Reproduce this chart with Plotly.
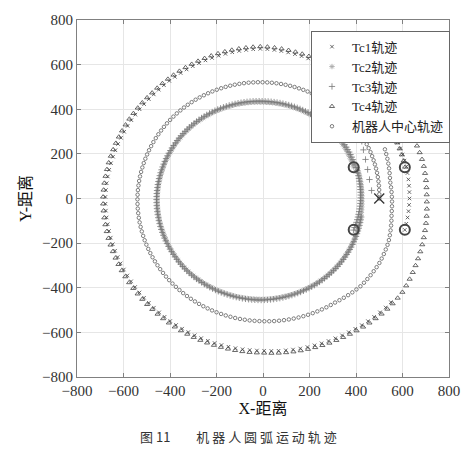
import numpy as np
import plotly.graph_objects as go

# ---------------- data ----------------
# robot pose at the start of the arc (four wheels + centre)
wheel_x = [390, 610, 390, 610]
wheel_y = [140, 140, -140, -140]
centre_x = [500]
centre_y = [0]

# trajectories as (angle in degrees, radius) key samples
tc1_ang = [-13, 0, 13, 30, 45, 90, 135, 157, 180, 225, 270, 300, 317, 320]
tc1_rad = [626, 630, 632, 630, 635, 671, 662, 669, 678, 678, 682, 702, 719, 720]
tc1_extra_x = [344, 362, 380, 396]
tc1_extra_y = [321, 307, 292, 277]

tc2_ang = [20, 45, 90, 135, 180, 225, 270, 315, 360, 380]
tc2_rad = [414, 424, 432, 446, 455, 458, 452, 440, 425, 428]

tc3_ang = [-20, 0, 45, 90, 135, 180, 225, 270, 315, 350]
tc3_rad = [414, 420, 428, 436, 450, 458, 461, 455, 443, 430]
tc3_extra_x = [467, 458, 450, 441, 432, 425]
tc3_extra_y = [36, 85, 130, 175, 218, 256]

tc4_ang = [13, 30, 45, 90, 135, 157, 180, 225, 270, 300, 317, 325, 337, 349, 360, 373, 383, 394, 430]
tc4_rad = [628, 630, 645, 681, 672, 679, 688, 688, 692, 712, 729, 732, 720, 711, 704, 707, 701, 714, 716]

ctr_ang = [0, 28, 90, 135, 180, 225, 270, 304, 317, 330, 340, 353, 368, 383]
ctr_rad = [500, 508, 521, 532, 540, 545, 550, 560, 575, 578, 574, 557, 552, 569]

# sampling step of each trajectory (degrees between markers)
steps = {"tc1": 2.6, "tc2": 1.7, "tc3": 1.7, "tc4": 2.6, "ctr": 2.2}

names = ["Tc1轨迹", "Tc2轨迹", "Tc3轨迹", "Tc4轨迹", "机器人中心轨迹"]
x_ticks = [-800, -600, -400, -200, 0, 200, 400, 600, 800]
y_ticks = [-800, -600, -400, -200, 0, 200, 400, 600, 800]


def polar_path(ang, rad, step):
    a = np.arange(ang[0], ang[-1] + 1e-9, step)
    r = np.interp(a, ang, rad)
    t = np.radians(a)
    return r * np.cos(t), r * np.sin(t)


x1, y1 = polar_path(tc1_ang, tc1_rad, steps["tc1"])
x1 = np.concatenate([x1, tc1_extra_x]); y1 = np.concatenate([y1, tc1_extra_y])
x2, y2 = polar_path(tc2_ang, tc2_rad, steps["tc2"])
x3, y3 = polar_path(tc3_ang, tc3_rad, steps["tc3"])
x3 = np.concatenate([x3, tc3_extra_x]); y3 = np.concatenate([y3, tc3_extra_y])
x4, y4 = polar_path(tc4_ang, tc4_rad, steps["tc4"])
xc, yc = polar_path(ctr_ang, ctr_rad, steps["ctr"])

serif = "Liberation Serif, Noto Sans CJK SC, serif"

fig = go.Figure()
fig.add_trace(go.Scatter(x=x1, y=y1, mode="markers", name=names[0],
                         marker=dict(symbol="x-thin-open", size=3.5, color="#444",
                                     line=dict(width=0.8, color="#444"))))
fig.add_trace(go.Scatter(x=x2, y=y2, mode="markers", name=names[1],
                         marker=dict(symbol="asterisk-open", size=4.5, color="#aaaaaa",
                                     line=dict(width=0.9, color="#aaaaaa"))))
fig.add_trace(go.Scatter(x=x3, y=y3, mode="markers", name=names[2],
                         marker=dict(symbol="cross-thin-open", size=4.5, color="#777",
                                     line=dict(width=0.8, color="#777"))))
fig.add_trace(go.Scatter(x=x4, y=y4, mode="markers", name=names[3],
                         marker=dict(symbol="triangle-up-open", size=4.5, color="#444",
                                     line=dict(width=0.8, color="#444"))))
fig.add_trace(go.Scatter(x=xc, y=yc, mode="markers", name=names[4],
                         marker=dict(symbol="circle-open", size=3.5, color="#555",
                                     line=dict(width=0.75, color="#555"))))
fig.add_trace(go.Scatter(x=wheel_x, y=wheel_y, mode="markers", showlegend=False,
                         marker=dict(symbol="circle-open", size=10, color="#444",
                                     line=dict(width=2, color="#444"))))
fig.add_trace(go.Scatter(x=centre_x, y=centre_y, mode="markers", showlegend=False,
                         marker=dict(symbol="x-thin-open", size=10, color="#333",
                                     line=dict(width=1.3, color="#333"))))

axis_common = dict(
    tickfont=dict(family=serif, size=15, color="#333"),
    showgrid=True, gridcolor="#e6e6e6", gridwidth=1,
    showline=True, linecolor="#808080", linewidth=1, mirror="ticks",
    ticks="inside", ticklen=4, tickcolor="#808080",
    zeroline=False, range=[-800, 800],
)
fig.update_xaxes(**axis_common, tickvals=x_ticks,
                 title=dict(text="X-距离", font=dict(family=serif, size=16, color="#111"),
                            standoff=4))
fig.update_yaxes(**axis_common, tickvals=y_ticks,
                 title=dict(text="Y-距离", font=dict(family=serif, size=16, color="#111"),
                            standoff=6))

fig.add_annotation(text="图 11\u3000\u3000机 器 人 圆 弧 运 动 轨 迹",
                   xref="paper", yref="paper", x=0.433, y=-0.168,
                   xanchor="center", yanchor="middle", showarrow=False,
                   font=dict(family="Noto Sans CJK SC, sans-serif", size=13, color="#333"))

fig.update_layout(
    width=473, height=454,
    margin=dict(l=77, r=24, t=13, b=77),
    paper_bgcolor="white", plot_bgcolor="white",
    legend=dict(x=0.629, y=0.97, xanchor="left", yanchor="top",
                bgcolor="white", bordercolor="#666", borderwidth=1,
                font=dict(family=serif, size=13, color="#222"),
                tracegroupgap=0),
)

fig.write_html("out.html")
